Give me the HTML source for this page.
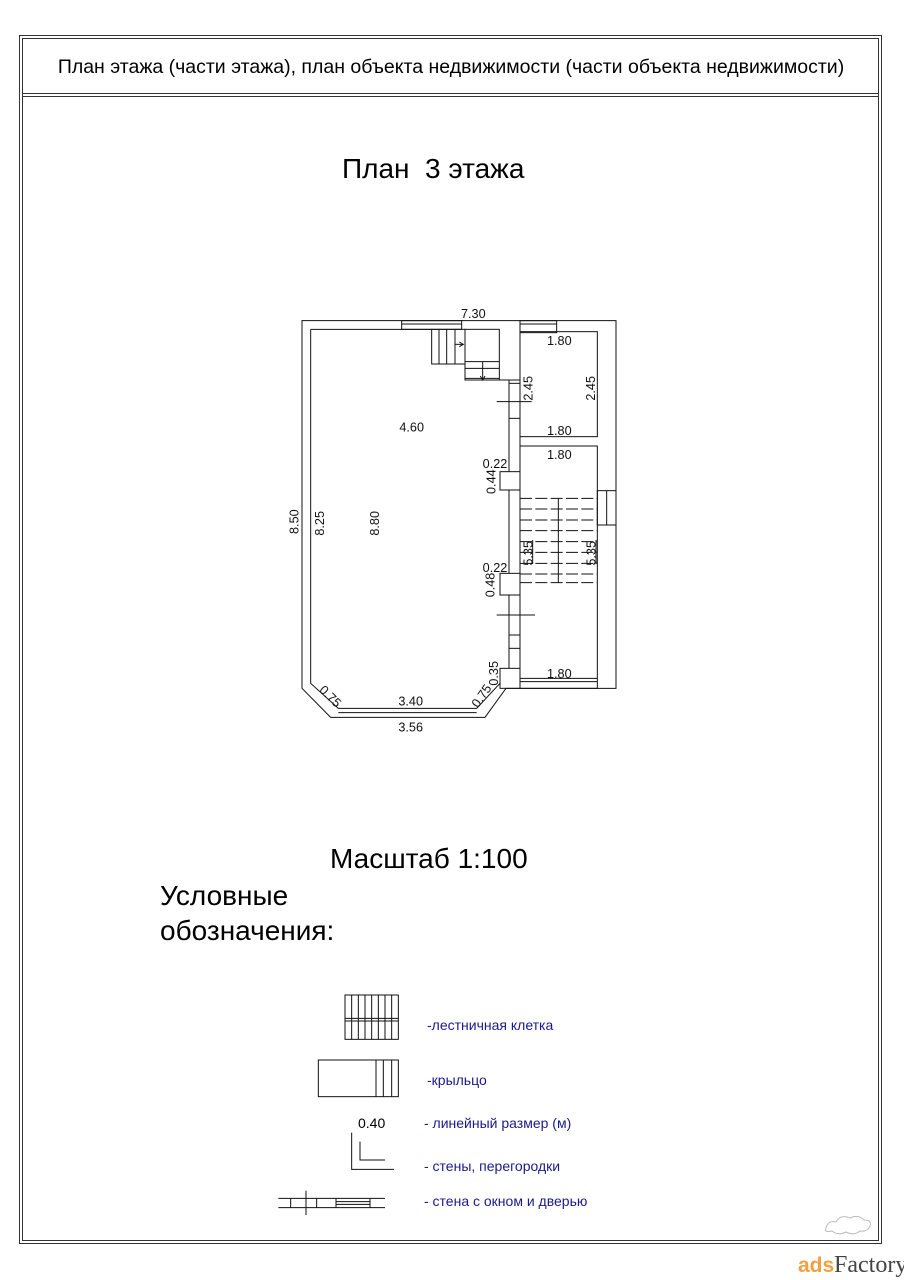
<!DOCTYPE html>
<html><head><meta charset="utf-8"><style>
html,body{margin:0;padding:0;background:#fff;}
svg{display:block;font-family:"Liberation Sans",Arial,sans-serif;}
</style></head><body>
<svg width="904" height="1280" viewBox="0 0 904 1280" xmlns="http://www.w3.org/2000/svg">
<g fill="none" stroke="#333" stroke-width="1">
<rect x="19.5" y="35.5" width="862" height="1208"/>
<rect x="22.5" y="38.5" width="856" height="1202"/>
<line x1="22" y1="93.5" x2="879" y2="93.5"/>
<line x1="22" y1="96.5" x2="879" y2="96.5"/>
</g>
<text x="451" y="73" font-size="19.5" text-anchor="middle" fill="#000">План этажа (части этажа), план объекта недвижимости (части объекта недвижимости)</text>
<text x="342" y="178" font-size="28" fill="#000" style="white-space:pre">План  3 этажа</text>
<text x="330" y="868" font-size="28" fill="#000">Масштаб 1:100</text>
<text x="160" y="905" font-size="28" fill="#000">Условные</text>
<text x="160" y="940" font-size="28" fill="#000">обозначения:</text>

<!-- Plan -->
<g transform="translate(290,300) scale(0.33333)" fill="none" stroke="#111" stroke-width="3">
<path d="M36,62 L978,62 L978,1165 L648,1165 L585,1252 L122,1252 L36,1165 Z"/>
<path d="M62,88 L62,1150 L145,1225 L560,1225 L630,1150"/>
<line x1="145" y1="1238" x2="560" y2="1238"/>
<line x1="62" y1="88" x2="425" y2="88"/>
<rect x="335" y="62" width="180" height="26"/>
<line x1="335" y1="72" x2="515" y2="72"/>
<rect x="425" y="88" width="100" height="104"/>
<line x1="447" y1="88" x2="447" y2="192"/>
<line x1="470" y1="88" x2="470" y2="192"/>
<line x1="495" y1="88" x2="495" y2="192"/>
<line x1="495" y1="133" x2="520" y2="133"/>
<path d="M508,126 L520,133 L508,140"/>
<rect x="525" y="88" width="103" height="152"/>
<line x1="525" y1="185" x2="628" y2="185"/>
<line x1="525" y1="205" x2="628" y2="205"/>
<line x1="525" y1="235" x2="628" y2="235"/>
<line x1="578" y1="185" x2="578" y2="240"/>
<path d="M571,228 L578,240 L585,228"/>
<line x1="628" y1="240" x2="690" y2="240"/>
<line x1="690" y1="62" x2="690" y2="1165"/>
<line x1="657" y1="240" x2="657" y2="515"/>
<line x1="657" y1="250" x2="690" y2="250"/>
<line x1="657" y1="355" x2="690" y2="355"/>
<line x1="620" y1="305" x2="725" y2="305"/>
<rect x="630" y="515" width="60" height="55"/>
<line x1="657" y1="570" x2="657" y2="820"/>
<rect x="630" y="820" width="60" height="65"/>
<line x1="657" y1="885" x2="657" y2="1105"/>
<line x1="657" y1="1005" x2="690" y2="1005"/>
<line x1="657" y1="1045" x2="690" y2="1045"/>
<line x1="620" y1="945" x2="735" y2="945"/>
<rect x="630" y="1105" width="60" height="60"/>
<rect x="690" y="95" width="232" height="315"/>
<rect x="690" y="438" width="232" height="727"/>
<line x1="690" y1="1135" x2="922" y2="1135"/>
<line x1="690" y1="1145" x2="922" y2="1145"/>
<rect x="690" y="62" width="110" height="36"/>
<line x1="690" y1="72" x2="800" y2="72"/>
<rect x="922" y="572" width="56" height="103"/>
<line x1="950" y1="572" x2="950" y2="675"/>
<g stroke-dasharray="36,10">
<line x1="690" y1="595" x2="922" y2="595"/>
<line x1="690" y1="627" x2="922" y2="627"/>
<line x1="690" y1="660" x2="922" y2="660"/>
<line x1="690" y1="692" x2="922" y2="692"/>
<line x1="690" y1="725" x2="922" y2="725"/>
<line x1="690" y1="757" x2="922" y2="757"/>
<line x1="690" y1="790" x2="922" y2="790"/>
<line x1="690" y1="822" x2="922" y2="822"/>
<line x1="690" y1="848" x2="922" y2="848"/>
</g>
<line x1="805" y1="595" x2="805" y2="848"/>
<line x1="728" y1="720" x2="728" y2="792"/>
<line x1="918" y1="720" x2="918" y2="792"/>
</g>
<g transform="translate(290,300) scale(0.33333)" font-size="38" fill="#111" text-anchor="middle">
<text x="550" y="54">7.30</text>
<text x="808" y="135">1.80</text>
<text x="808" y="405">1.80</text>
<text x="808" y="477">1.80</text>
<text x="808" y="1134">1.80</text>
<text x="365" y="394">4.60</text>
<text x="615" y="504">0.22</text>
<text x="615" y="816">0.22</text>
<text x="362" y="1217">3.40</text>
<text x="362" y="1294">3.56</text>
<text transform="translate(727,265) rotate(-90)">2.45</text>
<text transform="translate(915,265) rotate(-90)">2.45</text>
<text transform="translate(617,545) rotate(-90)">0.44</text>
<text transform="translate(26,665) rotate(-90)">8.50</text>
<text transform="translate(102,670) rotate(-90)">8.25</text>
<text transform="translate(267,670) rotate(-90)">8.80</text>
<text transform="translate(727,760) rotate(-90)">5.35</text>
<text transform="translate(917,760) rotate(-90)">5.35</text>
<text transform="translate(614,855) rotate(-90)">0.48</text>
<text transform="translate(624,1120) rotate(-90)">0.35</text>
<text transform="translate(112,1198) rotate(45)">0.75</text>
<text transform="translate(585,1195) rotate(-55)">0.75</text>
</g>

<!-- Legend -->
<g transform="translate(270,980) scale(0.33333)" fill="none" stroke="#111" stroke-width="3">
<rect x="225" y="45" width="160" height="133"/>
<line x1="225" y1="115" x2="385" y2="115"/>
<line x1="225" y1="123" x2="385" y2="123"/>
<path d="M245,45V178M265,45V178M285,45V178M305,45V178M325,45V178M345,45V178M365,45V178"/>
<rect x="145" y="240" width="240" height="110"/>
<path d="M318,240V350M340,240V350M365,240V350"/>
<path d="M245,458 L245,568 L372,568"/>
<path d="M270,485 L270,540 L345,540"/>
<line x1="25" y1="655" x2="345" y2="655"/>
<line x1="25" y1="683" x2="345" y2="683"/>
<path d="M62,655V683M140,655V683M198,655V683M300,655V683"/>
<line x1="108" y1="632" x2="108" y2="705"/>
<line x1="198" y1="665" x2="300" y2="665"/>
<line x1="198" y1="673" x2="300" y2="673"/>
</g>
<g font-size="14" fill="#1a1a8a">
<text x="427" y="1030">-лестничная клетка</text>
<text x="427" y="1085">-крыльцо</text>
<text x="424" y="1128">- линейный размер (м)</text>
<text x="424" y="1171">-  стены, перегородки</text>
<text x="424" y="1206">- стена с окном  и дверью</text>
</g>
<text x="358" y="1128" font-size="14" fill="#000">0.40</text>

<g fill="none" stroke="#bbb" stroke-width="1">
<path d="M826,1228 q2,-8 10,-6 q4,-8 14,-4 q8,-4 14,2 q8,0 6,6 q-2,6 -10,5 q-6,5 -14,1 q-8,4 -14,-1 q-8,2 -6,-3z"/>
</g>
<text x="798" y="1272" font-size="21" fill="#f0a040" font-weight="bold">ads</text>
<text x="834" y="1272" font-size="24" fill="#444" font-family="Liberation Serif,serif">Factory</text>
</svg>
</body></html>
